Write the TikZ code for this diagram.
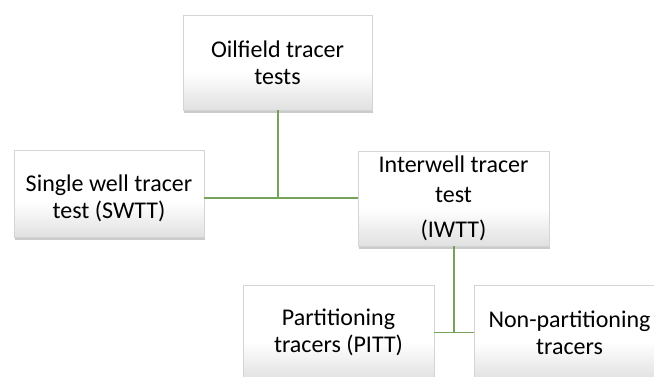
\documentclass[tikz,border=0pt]{standalone}
\usepackage{fontspec}
\setmainfont{Carlito}
\usetikzlibrary{shadows}
\definecolor{linkgreen}{HTML}{76A35A}
\definecolor{boxedge}{HTML}{D4D4D4}
\pgfdeclareverticalshading{boxshade}{100bp}{%
  color(0bp)=(black!12); color(25bp)=(black!12); color(45bp)=(white);
  color(75bp)=(white); color(100bp)=(white)}
\tikzset{
  box/.style={rectangle, draw=boxedge, line width=0.6pt, shading=boxshade,
    align=center, inner sep=0pt, text=black,
    font=\fontsize{24}{27}\selectfont,
    drop shadow={shadow xshift=1pt, shadow yshift=-3pt, opacity=0.45, fill=black!45}},
  link/.style={draw=linkgreen, line width=1.2pt}
}
\begin{document}
\begin{tikzpicture}[x=1pt, y=-1pt]
  \useasboundingbox (0,0) rectangle (654,376);
  \begin{scope}
    \clip (0,0) rectangle (654,376);
    % junction points of the tree
    \coordinate (j1) at (278,198);
    \coordinate (j2) at (454,332.5);
    % boxes
    \node[box, minimum width=189pt, minimum height=95pt] (top) at (277.5,62.5)
      {Oilfield tracer\\tests};
    \node[box, minimum width=190pt, minimum height=87pt, text height=54pt] (swtt) at (109,193.5)
      {Single well tracer\\test (SWTT)};
    \node[box, minimum width=191pt, minimum height=95pt] (iwtt) at (453.5,198.5)
      {Interwell tracer\\[3pt]test\\[8pt](IWTT)};
    \node[box, minimum width=191pt, minimum height=95pt] (pitt) at (338.5,332.5)
      {Partitioning\\tracers (PITT)};
    \node[box, minimum width=191pt, minimum height=95pt] (npt) at (569.5,332.5)
      {Non-partitioning\\tracers};
  \end{scope}
  % connectors
  \draw[link] (top.south -| j1) -- (j1);
  \draw[link] (swtt.east |- j1) -- (iwtt.west |- j1);
  \draw[link] (iwtt.south -| j2) -- (j2);
  \draw[link] (pitt.east) -- (npt.west);
\end{tikzpicture}
\end{document}
